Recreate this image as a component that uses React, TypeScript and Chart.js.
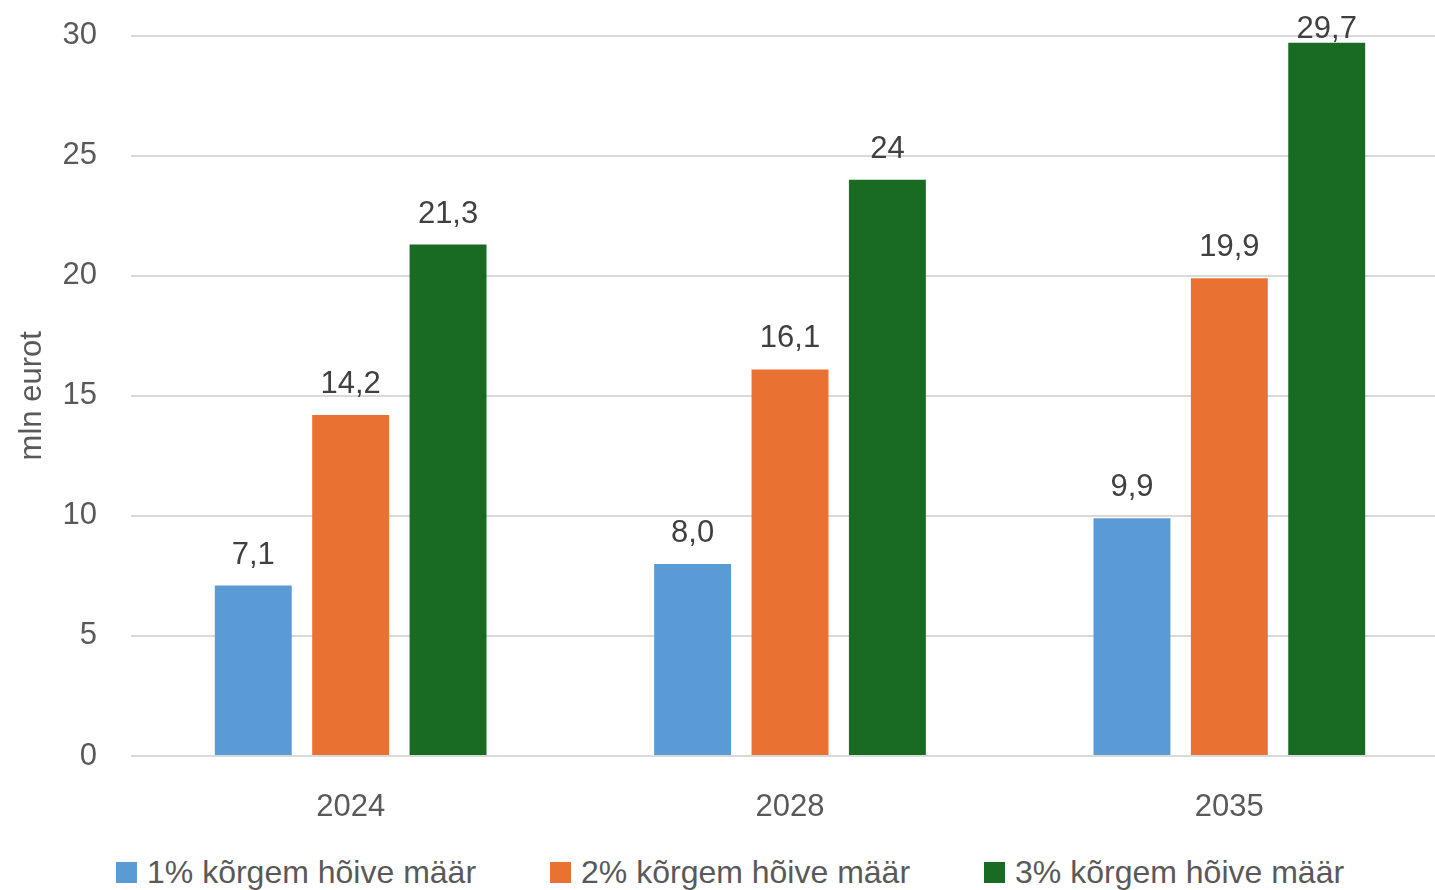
import React, { useEffect, useRef } from "react";
import { Chart, registerables } from "chart.js";

Chart.register(...registerables);

const categories = ["2024", "2028", "2035"];
const seriesNames = ["1% kõrgem hõive määr", "2% kõrgem hõive määr", "3% kõrgem hõive määr"];
const series1 = [7.1, 8.0, 9.9];
const series2 = [14.2, 16.1, 19.9];
const series3 = [21.3, 24, 29.7];
const labels1 = ["7,1", "8,0", "9,9"];
const labels2 = ["14,2", "16,1", "19,9"];
const labels3 = ["21,3", "24", "29,7"];
const colors = ["#5B9BD5", "#E97132", "#196B24"];
const yTitle = "mln eurot";

const FONT = "'Liberation Sans', Arial, sans-serif";

export default function App() {
  const ref = useRef<HTMLCanvasElement | null>(null);
  useEffect(() => {
    if (!ref.current) return;
    const allLabels = [labels1, labels2, labels3];
    const dataLabelPlugin = {
      id: "dataLabels",
      afterDatasetsDraw(chart: any) {
        const ctx = chart.ctx;
        ctx.save();
        ctx.font = `31px ${FONT}`;
        ctx.fillStyle = "#404040";
        ctx.textAlign = "center";
        ctx.textBaseline = "alphabetic";
        chart.data.datasets.forEach((ds: any, di: number) => {
          const meta = chart.getDatasetMeta(di);
          meta.data.forEach((bar: any, i: number) => {
            const y = Math.max(bar.y - 22, chart.chartArea.top + 2);
            ctx.fillText(allLabels[di][i], bar.x, y);
          });
        });
        ctx.restore();
      },
    };
    const chart = new Chart(ref.current, {
      type: "bar",
      data: {
        labels: categories,
        datasets: [
          { label: seriesNames[0], data: series1, backgroundColor: colors[0] },
          { label: seriesNames[1], data: series2, backgroundColor: colors[1] },
          { label: seriesNames[2], data: series3, backgroundColor: colors[2] },
        ],
      },
      options: {
        responsive: false,
        animation: false,
        layout: { padding: { top: 0, left: 0, right: 0, bottom: 0 } },
        datasets: { bar: { categoryPercentage: 0.665, barPercentage: 0.79 } },
        plugins: {
          legend: { display: false },
          tooltip: { enabled: false },
        },
        scales: {
          x: {
            grid: { display: false },
            border: { display: false },
            ticks: { font: { family: FONT, size: 31 }, color: "#595959", padding: 25 },
            afterFit: (s: any) => { s.height = 84; },
          },
          y: {
            min: 0,
            max: 30,
            ticks: { stepSize: 5, font: { family: FONT, size: 31 }, color: "#595959", padding: 34 },
            grid: { color: "#D9D9D9", lineWidth: 2, drawTicks: false },
            border: { display: false },
            title: { display: true, text: yTitle, font: { family: FONT, size: 31 }, color: "#595959", padding: { top: 14, bottom: 0 } },
            afterFit: (s: any) => { s.width = 131; },
          },
        },
      },
      plugins: [dataLabelPlugin],
    });
    return () => chart.destroy();
  }, []);
  return (
    <div style={{ position: "fixed", left: 0, top: 0, width: 1435, height: 890, overflow: "hidden", background: "#fff" }}>
      <canvas ref={ref} width={1449} height={857} style={{ display: "block", marginTop: -17 }} />
      <div
        style={{
          position: "absolute",
          left: 116,
          top: 852,
          display: "flex",
          gap: 74,
          fontFamily: FONT,
          fontSize: 32,
          color: "#595959",
          whiteSpace: "nowrap",
          lineHeight: "40px",
        }}
      >
        {seriesNames.map((name, i) => (
          <div key={name} style={{ display: "flex", alignItems: "center", gap: 10 }}>
            <span style={{ display: "inline-block", width: 21, height: 21, background: colors[i] }} />
            <span>{name}</span>
          </div>
        ))}
      </div>
    </div>
  );
}
